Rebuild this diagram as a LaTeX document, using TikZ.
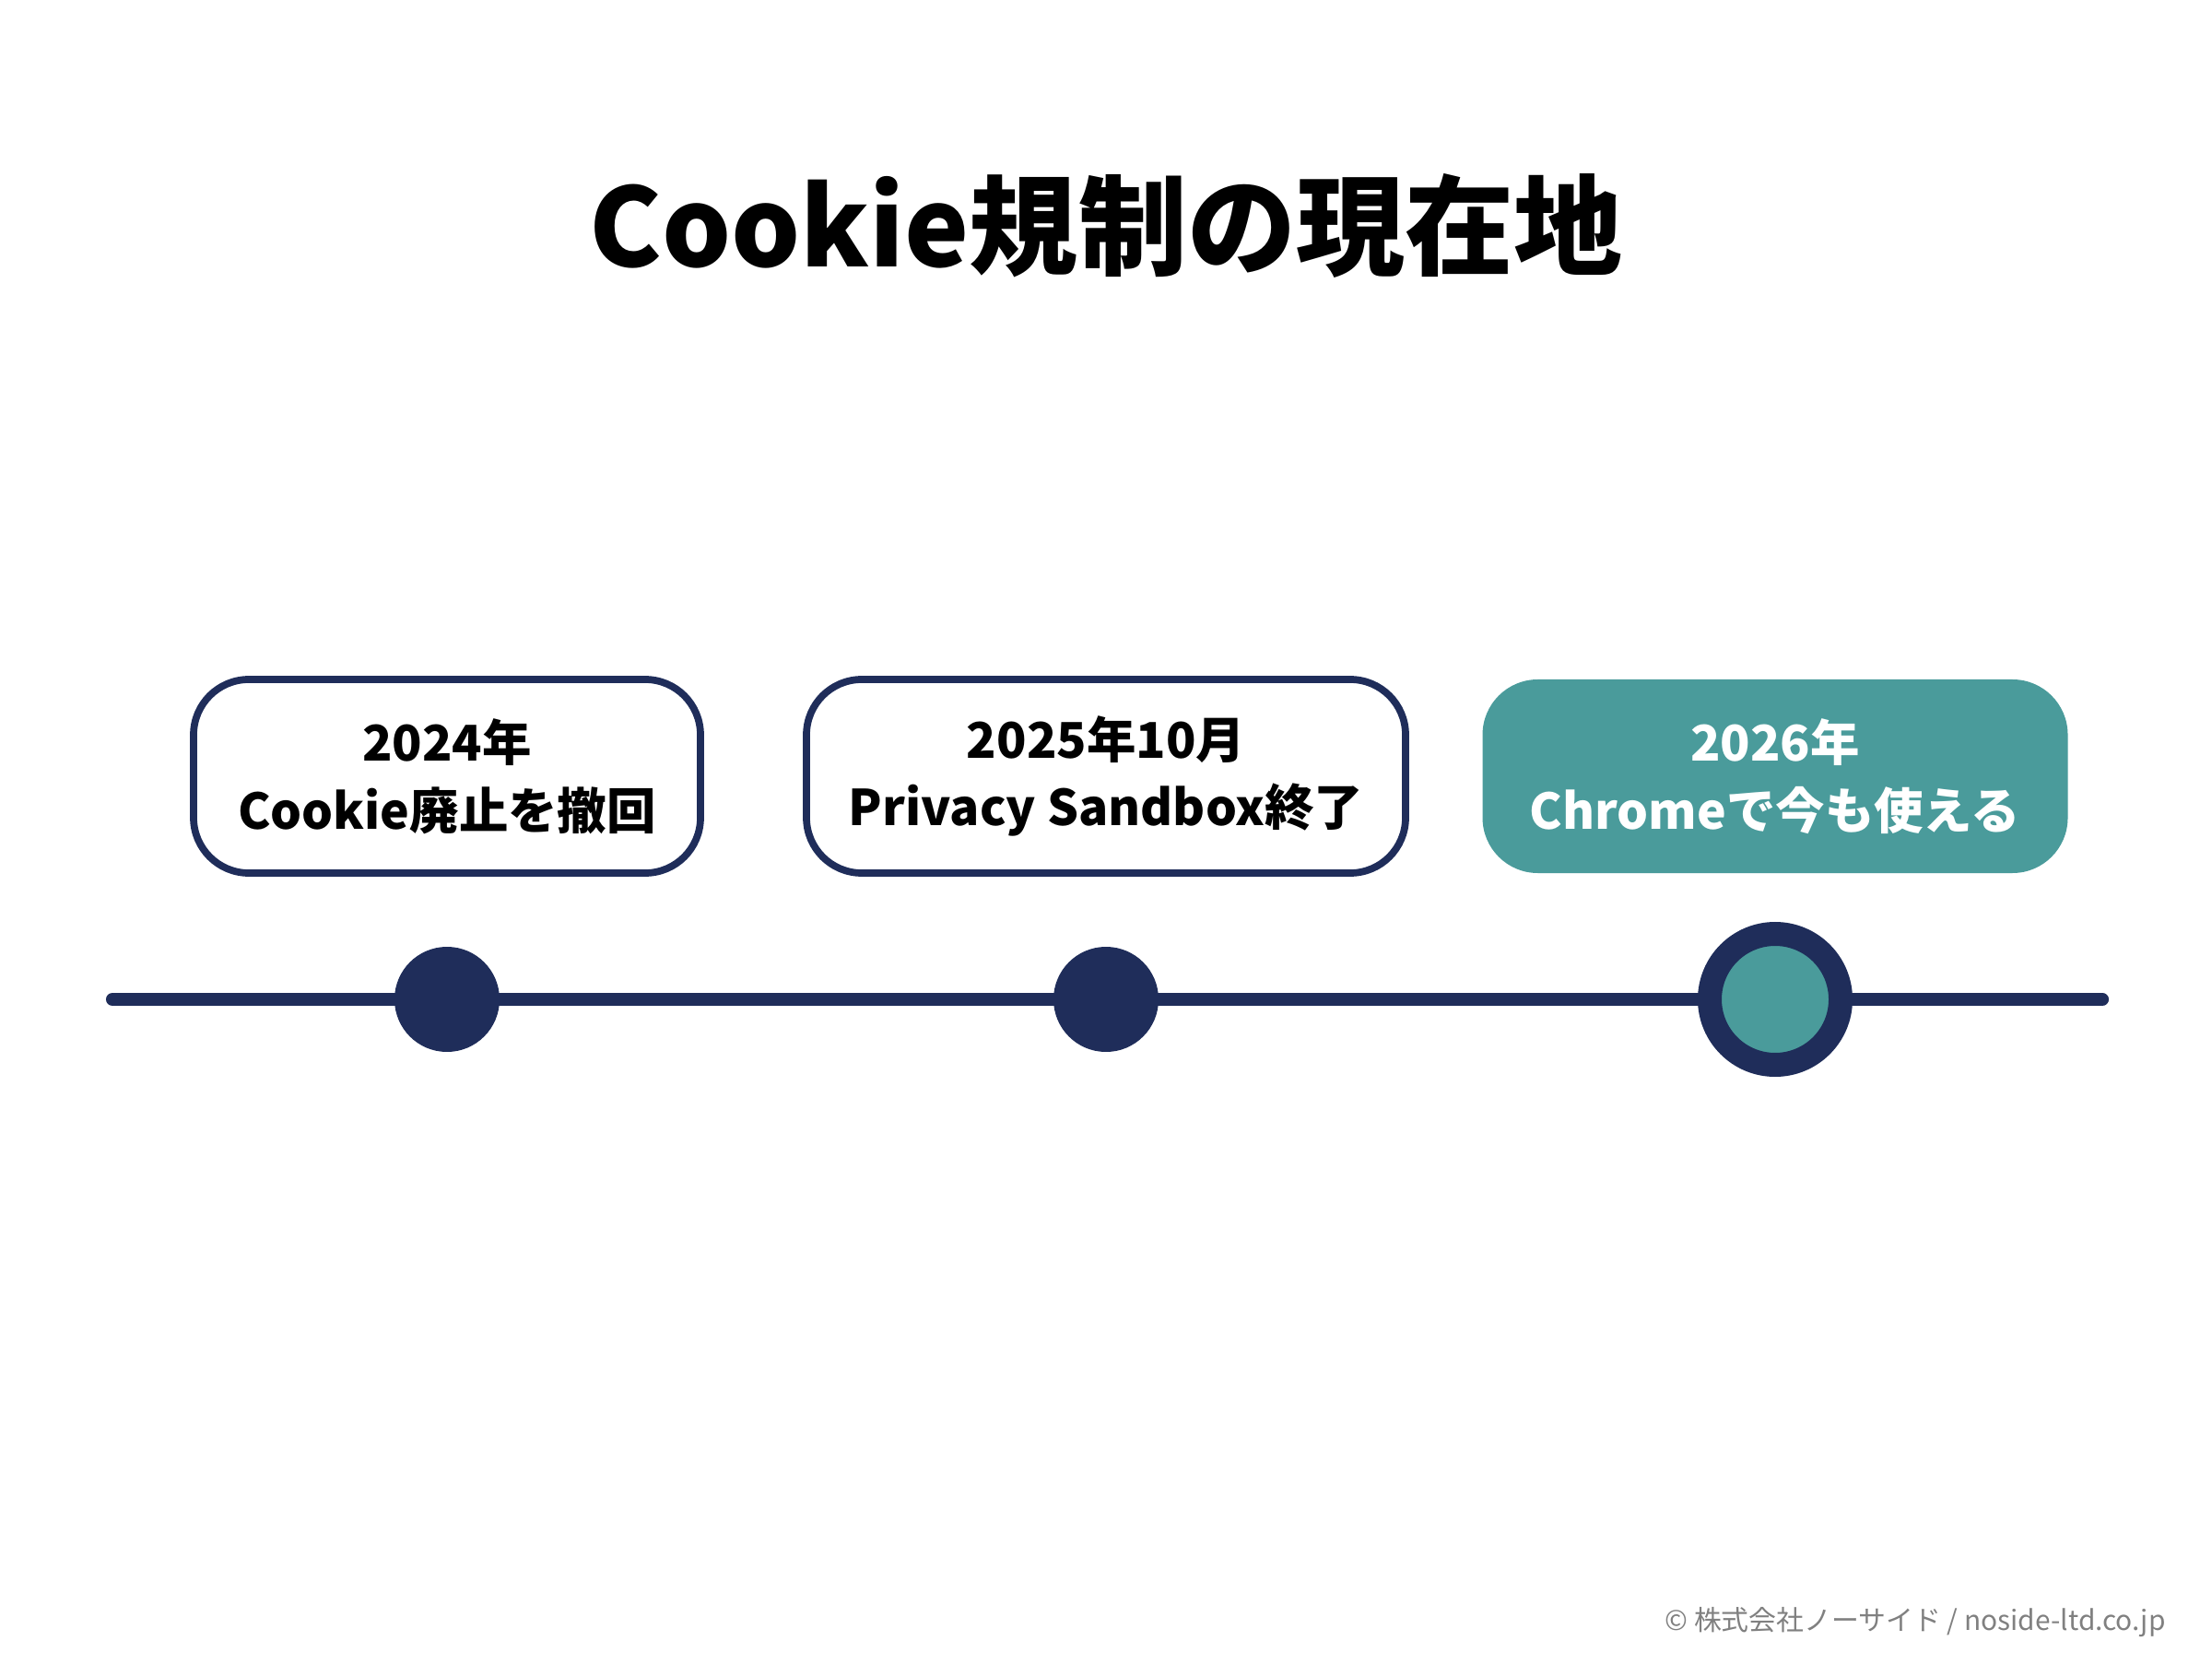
\documentclass[tikz,border=0pt]{standalone}
\usepackage{fontspec}
\setmainfont{Noto Sans CJK JP}
\definecolor{navy}{HTML}{1F2D5A}
\definecolor{teal}{HTML}{4A9B9B}
\tikzset{
  event/.style={draw=navy,line width=2.2pt,rounded corners=0.6cm,fill=white,
    minimum height=2.1cm,align=center,font=\fontsize{15.2}{21}\selectfont\bfseries},
  dot/.style={circle,fill=navy,minimum size=1.14cm,inner sep=0pt},
}
\begin{document}
\begin{tikzpicture}
\useasboundingbox (0,0) rectangle (24,17.92);
\node[font=\fontsize{33.6}{40}\selectfont\bfseries] (title) at (12,15.47) {Cookie規制の現在地};
\node[event,minimum width=5.5cm] (e1) at (4.85,9.50) {2024年\\Cookie廃止を撤回};
\node[event,minimum width=6.5cm] (e2) at (12.0,9.50) {2025年10月\\Privacy Sandbox終了};
\node[event,minimum width=6.35cm,draw=none,fill=teal,text=white] (e3) at (19.26,9.50) {2026年\\Chromeで今も使える};
\coordinate (l0) at (1.22,7.08);
\coordinate (l1) at (22.81,7.08);
\draw[navy,line width=4pt,line cap=round] (l0) -- (l1);
\node[dot] (d1) at (4.85,7.08) {};
\node[dot] (d2) at (12.0,7.08) {};
\node[circle,draw=navy,line width=0.26cm,fill=teal,minimum size=1.42cm,inner sep=0pt] (d3) at (19.26,7.08) {};
\node[anchor=east,text=gray,font=\fontsize{8.5}{10}\selectfont] (foot) at (23.62,0.32) {© 株式会社ノーサイド / noside-ltd.co.jp};
\end{tikzpicture}
\end{document}
